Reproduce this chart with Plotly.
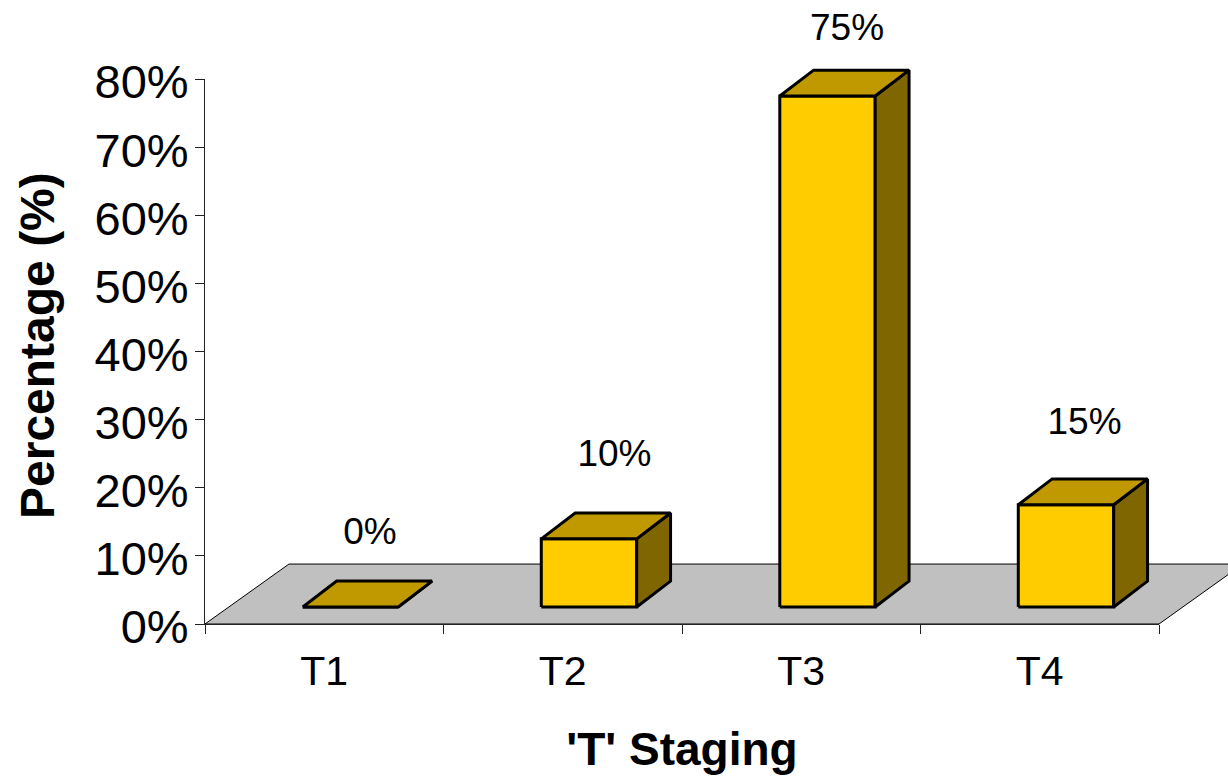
import plotly.graph_objects as go

categories = ["T1", "T2", "T3", "T4"]
values = [0, 10, 75, 15]
y_ticks = [0, 10, 20, 30, 40, 50, 60, 70, 80]
y_tick_labels = [f"{v}%" for v in y_ticks]
label_lift = [13.1, 14.5, 12.1, 14.3]
label_shift = [0.082, 0.107, 0.082, 0.078]

BAR_LEFT, BAR_W = 0.41, 0.40
BASE = 2.5
DX, DY = 0.142, 3.8
FLOOR_DX, FLOOR_DY = 0.352, 8.8
FONT = "Liberation Sans"
YTS, XTS, LS, XTITLE, YTITLE = 47, 41, 37, 46, 48

# page geometry (the body margin is removed below)
W, H, OFF = 1228, 780, 0
L, R, T, B = 205, 1159, 79, 624
n = len(categories)
UX = (R - L) / n
UY = (B - T) / 80


def polys(faces):
    xs, ys = [], []
    for f in faces:
        xs += [p[0] for p in f] + [f[0][0], None]
        ys += [p[1] for p in f] + [f[0][1], None]
    return xs, ys


front, side, top = [], [], []
for i, v in enumerate(values):
    x0, x1 = i + BAR_LEFT, i + BAR_LEFT + BAR_W
    y0, y1 = BASE, BASE + v
    front.append([(x0, y0), (x1, y0), (x1, y1), (x0, y1)])
    side.append([(x1, y0), (x1 + DX, y0 + DY), (x1 + DX, y1 + DY), (x1, y1)])
    top.append([(x0, y1), (x1, y1), (x1 + DX, y1 + DY), (x0 + DX, y1 + DY)])

fig = go.Figure()
fig.add_trace(go.Scatter(
    x=[0, n, n + FLOOR_DX, FLOOR_DX, 0], y=[0, 0, FLOOR_DY, FLOOR_DY, 0],
    mode="lines", fill="toself", fillcolor="#C0C0C0",
    line=dict(color="#000000", width=1), hoverinfo="skip"))
for faces, color in [(front, "#FFCC00"), (side, "#806600"), (top, "#C09900")]:
    xs, ys = polys(faces)
    fig.add_trace(go.Scatter(
        x=xs, y=ys, mode="lines", fill="toself", fillcolor=color,
        line=dict(color="#000000", width=3), hoverinfo="skip"))
fig.add_trace(go.Scatter(
    x=[i + BAR_LEFT + BAR_W / 2 + s for i, s in enumerate(label_shift)],
    y=[v + l for v, l in zip(values, label_lift)],
    text=[f"{v}%" for v in values], mode="text", textposition="middle center",
    textfont=dict(family=FONT, size=LS, color="#000000")))
# keeps the visible axes drawn
fig.add_trace(go.Scatter(
    x=[i + 0.5 for i in range(n)], y=values, xaxis="x2", yaxis="y2",
    mode="markers", marker=dict(opacity=0), hoverinfo="skip"))

hidden = dict(visible=False, showgrid=False, zeroline=False, automargin=False)
fig.update_layout(
    width=W, height=H, showlegend=False,
    paper_bgcolor="#FFFFFF", plot_bgcolor="rgba(0,0,0,0)",
    margin=dict(l=0, r=0, t=0, b=0),
    font=dict(family=FONT, color="#000000"),
    # full-page axes that carry the marks, same scale as the visible axes
    xaxis=dict(domain=[0, 1], range=[(OFF - L) / UX, (OFF + W - L) / UX], anchor="y", **hidden),
    yaxis=dict(domain=[0, 1], range=[(B - OFF - H) / UY, (B - OFF) / UY], anchor="x", **hidden),
    # visible axes
    xaxis2=dict(
        domain=[(L - OFF) / W, (R - OFF) / W], anchor="y2", automargin=False,
        range=[0, n], tickmode="array",
        tickvals=[i + 0.5 for i in range(n)], ticktext=categories,
        ticks="outside", ticklen=11, tickcolor="rgba(0,0,0,0)",
        tickfont=dict(size=XTS), showgrid=False, zeroline=False,
        showline=True, linecolor="#222222", linewidth=1,
        minor=dict(tickmode="array", tickvals=list(range(n + 1)), ticks="outside",
                   ticklen=9, tickcolor="#222222", tickwidth=1, showgrid=False),
        title=dict(text="<b>'T' Staging</b>", font=dict(size=XTITLE), standoff=39)),
    yaxis2=dict(
        domain=[1 - (B - OFF) / H, 1 - (T - OFF) / H], anchor="x2", automargin=False,
        range=[0, 80], tickmode="array", tickvals=y_ticks, ticktext=y_tick_labels,
        ticks="outside", ticklen=9, tickcolor="#222222", tickwidth=1,
        ticklabelstandoff=-3, ticklabelshift=3,
        tickfont=dict(size=YTS), showgrid=False, zeroline=False,
        showline=True, linecolor="#222222", linewidth=1),
    annotations=[dict(
        text="<b>Percentage (%)</b>", textangle=-90, showarrow=False,
        xref="paper", yref="paper", x=(37 - OFF) / W, y=1 - (346 - OFF) / H,
        xanchor="center", yanchor="middle", font=dict(size=YTITLE))],
)
fig.write_html("out.html", config={"displayModeBar": False},
               post_script="document.body.style.margin='0';")
